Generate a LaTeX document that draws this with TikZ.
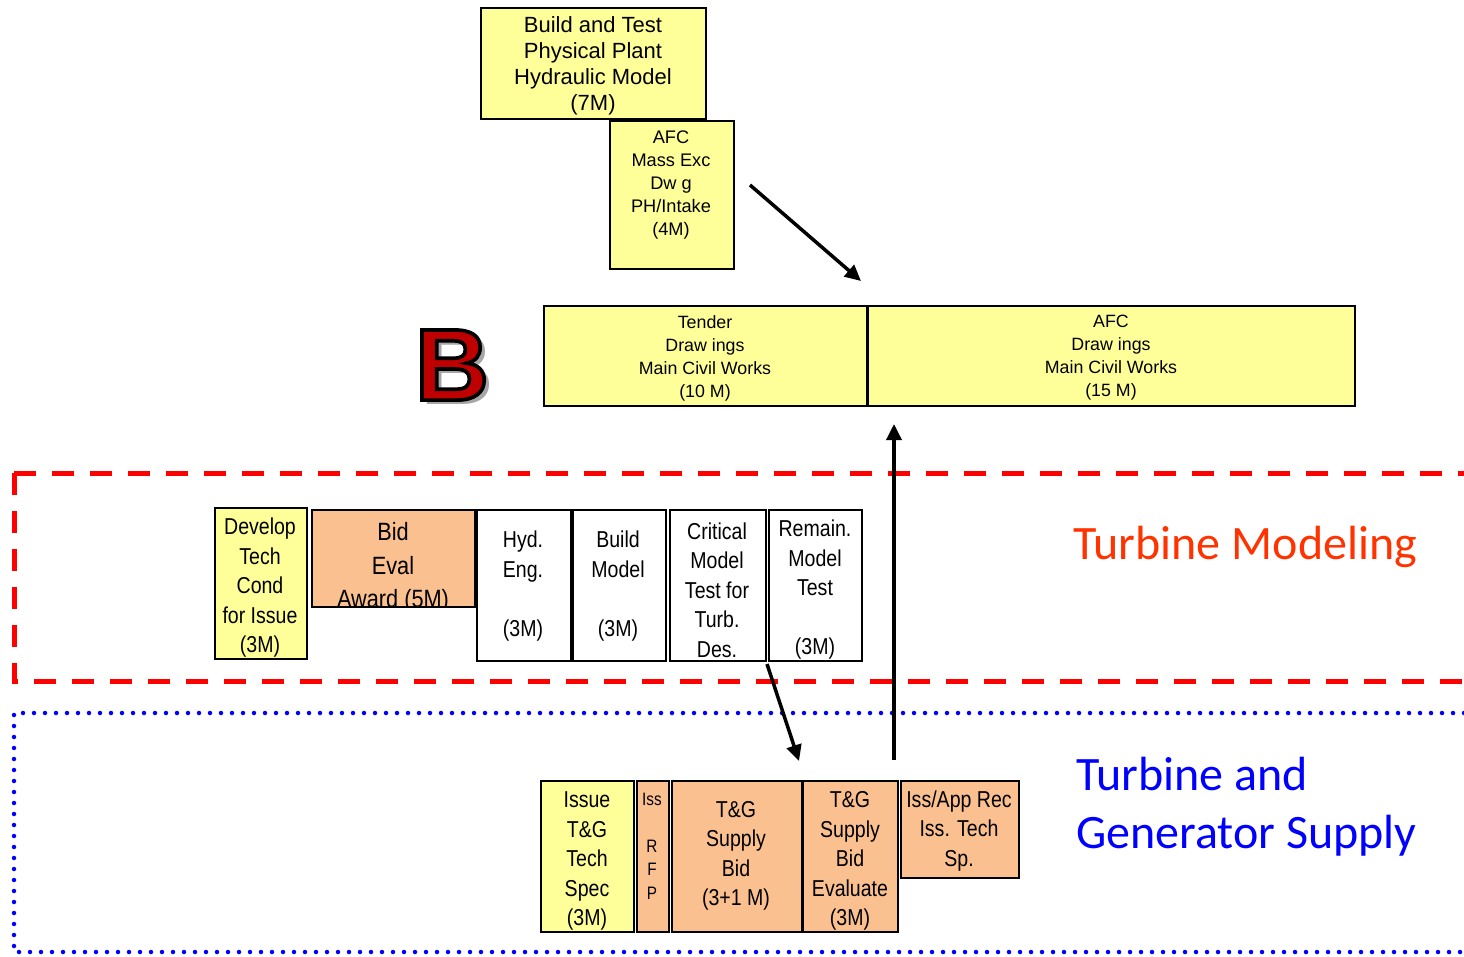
\documentclass[tikz,border=0pt]{standalone}
\usepackage{fontspec}
\setmainfont{Liberation Sans}
\newfontfamily\arialn[FakeStretch=0.85]{Liberation Sans}
\newfontfamily\arialw[FakeStretch=0.87]{Liberation Sans}
\newfontfamily\arialf{Liberation Sans}
\newfontfamily\arialstroke[FakeBold=3.6]{Liberation Sans Bold}
\newfontfamily\calib{Carlito}
\usetikzlibrary{arrows.meta}
\definecolor{pyellow}{RGB}{255,255,153}
\definecolor{peach}{RGB}{250,192,144}
\definecolor{tmred}{RGB}{255,51,0}
\definecolor{bred}{RGB}{192,0,0}
\definecolor{tgblue}{RGB}{0,0,255}
% letter filled dark red and stroked black (fill and stroke colours set apart)
\newcommand\outlinedletter[1]{\special{pdf:bcolor [0.75 0 0] [0 0 0]}#1\special{pdf:ecolor}}
\begin{document}
\begin{tikzpicture}[x=1pt,y=-1pt,
  box/.style={draw=black, line width=1.6pt, inner sep=0pt, anchor=north west},
  tx/.style={inner sep=0pt, align=center, text=black},
  small/.style={font=\arialf\fontsize{17.8}{23}\selectfont},
  narrow/.style={font=\arialn\fontsize{23}{29.5}\selectfont},
  arr/.style={line width=3.5pt, -{Triangle[length=16pt,width=15pt]}},
  regionred/.style={red, line width=5pt, dash pattern=on 22pt off 16pt},
  regionblue/.style={tgblue, line width=4.5pt, line cap=round, dash pattern=on 0pt off 11pt}]
\useasboundingbox (0,0) rectangle (1464,956);

% ---- region frames (open to the right)
\draw[regionred] (14,473) -- (1464,473);
\draw[regionred] (14,473) -- (14,681) -- (1464,681);
\draw[regionblue] (1464,713) -- (14,713) -- (14,952) -- (1464,952);

% ---- upper block: civil works
\node[box, fill=pyellow, minimum width=225pt, minimum height=111pt] (bt) at (480,7) {};
\node[tx, font=\arialf\fontsize{22}{26}\selectfont] (bt-t) at (593,66)
  {Build and Test\\Physical Plant\\Hydraulic Model\\(7M)};

\node[box, fill=pyellow, minimum width=124pt, minimum height=148pt] (mx) at (609,120) {};
\node[tx, font=\arialf\fontsize{18.2}{23}\selectfont] (mx-t) at (671,185) {AFC\\Mass Exc\\Dw g\\PH/Intake\\(4M)};

\node[box, fill=pyellow, minimum width=323pt, minimum height=100pt] (td) at (543,305) {};
\node[tx, small] (td-t) at (705,358) {Tender\\Draw ings\\Main Civil Works\\(10 M)};

\node[box, fill=pyellow, minimum width=487pt, minimum height=100pt] (af) at (867,305) {};
\node[tx, small] (af-t) at (1111,358) {AFC\\Draw ings\\Main Civil Works\\(15 M)};

% ---- section letter with its soft shadow
\node[inner sep=0pt, text=black!35, font=\arialf\bfseries\fontsize{102}{102}\selectfont] (bs) at (457,369) {B};
\node[inner sep=0pt, font=\arialstroke\fontsize{102}{102}\selectfont] (bl) at (452,365)
  {\outlinedletter{B}};

% ---- turbine modelling row
\node[box, fill=pyellow, minimum width=92pt, minimum height=151pt] (dv) at (214,507) {};
\node[tx, narrow] (dv-t) at (260,588) {Develop\\Tech\\Cond\\for Issue\\(3M)};

\node[box, fill=peach, minimum width=163pt, minimum height=97pt] (be) at (311,509) {};
\begin{scope}
  \clip (311,509) rectangle (474,606);
  \node[tx, font=\arialw\fontsize{25}{33.5}\selectfont] (be-t) at (393,568) {Bid\\Eval\\Award (5M)};
\end{scope}

\node[box, fill=white, minimum width=94pt, minimum height=151pt] (hy) at (476,509) {};
\node[tx, narrow] (hy-t) at (523,586) {Hyd.\\Eng.\\ \\(3M)};

\node[box, fill=white, minimum width=93pt, minimum height=151pt] (bm) at (572,509) {};
\node[tx, narrow] (bm-t) at (618,586) {Build\\Model\\ \\(3M)};

\node[box, fill=white, minimum width=96pt, minimum height=151pt] (cm) at (669,509) {};
\node[tx, narrow] (cm-t) at (717,590) {Critical\\Model\\Test for\\Turb.\\Des.};

\node[box, fill=white, minimum width=93pt, minimum height=151pt] (rm) at (768,509) {};
\node[tx, narrow] (rm-t) at (815,590) {Remain.\\Model\\Test\\ \\(3M)};

% ---- turbine and generator supply row
\node[box, fill=pyellow, minimum width=93pt, minimum height=151pt] (it) at (540,780) {};
\node[tx, narrow] (it-t) at (587,861) {Issue\\T\&G\\Tech\\Spec\\(3M)};

\node[box, fill=peach, minimum width=32pt, minimum height=151pt] (rf) at (636,780) {};
\node[tx, font=\arialn\fontsize{18}{23.5}\selectfont] (rf-t) at (652,846) {Iss\\ \\R\\F\\P};

\node[box, fill=peach, minimum width=130pt, minimum height=151pt] (sb) at (671,780) {};
\node[tx, narrow] (sb-t) at (736,856) {T\&G\\Supply\\Bid\\(3+1 M)};

\node[box, fill=peach, minimum width=95pt, minimum height=151pt] (ev) at (802,780) {};
\node[tx, narrow] (ev-t) at (850,861) {T\&G\\Supply\\Bid\\Evaluate\\(3M)};

\node[box, fill=peach, minimum width=118pt, minimum height=97pt] (ia) at (900,780) {};
\node[tx, narrow] (ia-t) at (959,831) {Iss/App Rec\\Iss. Tech\\Sp.};

% ---- region titles
\node[inner sep=0pt, anchor=west, text=tmred, font=\calib\fontsize{48}{54}\selectfont] (tm) at (1073,547)
  {Turbine Modeling};
\node[inner sep=0pt, anchor=west, align=left, text=tgblue, font=\calib\fontsize{48}{58}\selectfont] (tg) at (1076,807)
  {Turbine and\\Generator Supply};

% ---- links
\coordinate (a1s) at (750,185);
\coordinate (a1e) at (861,281);
\coordinate (a2s) at (894,760);
\coordinate (a2e) at (894,424);
\coordinate (a3s) at (767,664);
\coordinate (a3e) at (799,761);
\draw[arr] (a1s) -- (a1e);
\draw[arr] (a2s) -- (a2e);
\draw[arr] (a3s) -- (a3e);
\end{tikzpicture}
\end{document}
